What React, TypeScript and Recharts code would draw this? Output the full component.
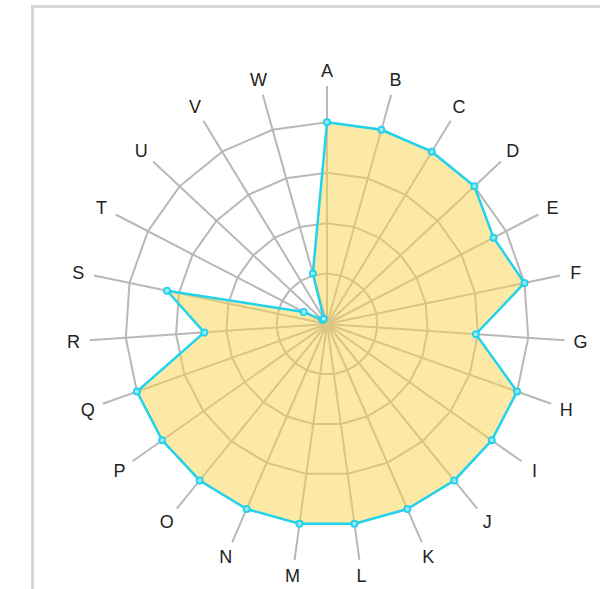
import React from 'react';
import { RadarChart, Radar, PolarGrid, PolarAngleAxis, PolarRadiusAxis } from 'recharts';

const categories = ['A', 'B', 'C', 'D', 'E', 'F', 'G', 'H', 'I', 'J', 'K', 'L', 'M', 'N', 'O', 'P', 'Q', 'R', 'S', 'T', 'U', 'V', 'W'];
const values = [100, 100, 100, 100, 93, 100, 74, 100, 100, 100, 100, 100, 100, 100, 100, 100, 100, 61, 81, 13, 3, 3, 26];
const radiusTicks = [0, 25, 50, 75, 100];
const radiusMax = 118;

const data = categories.map((name, i) => ({ name, value: values[i] }));

const CX = 327;
const CY = 324;
const OUTER = 238;
const LABEL_R = 254;

function AngleTick(props: any) {
  const { x, y, payload } = props;
  const dx = x - CX;
  const dy = y - CY;
  const len = Math.sqrt(dx * dx + dy * dy) || 1;
  const lx = CX + (dx / len) * LABEL_R;
  const ly = CY + (dy / len) * LABEL_R;
  return (
    <text
      x={lx}
      y={ly}
      dy={6.5}
      textAnchor="middle"
      fontSize={18}
      fill="#222222"
      fontFamily="'Liberation Sans', Arial, sans-serif"
    >
      {payload.value}
    </text>
  );
}

export default function App() {
  return (
    <div style={{ position: 'absolute', left: 0, top: 0, width: 600, height: 589, overflow: 'hidden', background: '#fff' }}>
      <div
        style={{
          position: 'absolute',
          left: 31,
          top: 5,
          width: 800,
          height: 800,
          border: '3px solid #d6d6d6',
          boxSizing: 'border-box',
        }}
      />
      <div style={{ position: 'absolute', left: 0, top: 0 }}>
        <RadarChart width={600} height={589} data={data} cx={CX} cy={CY} outerRadius={OUTER} margin={{ top: 0, right: 0, bottom: 0, left: 0 }}>
          <PolarGrid gridType="polygon" stroke="#b8b8b8" strokeWidth={2} />
          <PolarAngleAxis dataKey="name" tick={<AngleTick />} tickLine={false} axisLine={false} />
          <PolarRadiusAxis domain={[0, radiusMax]} ticks={radiusTicks} tick={false} axisLine={false} tickLine={false} />
          <Radar
            dataKey="value"
            stroke="#22d3ee"
            strokeWidth={2.5}
            fill="#fcd34d"
            fillOpacity={0.5}
            dot={{ r: 3, fill: '#ffffff', stroke: '#22d3ee', strokeWidth: 2 }}
            isAnimationActive={false}
          />
        </RadarChart>
      </div>
    </div>
  );
}
